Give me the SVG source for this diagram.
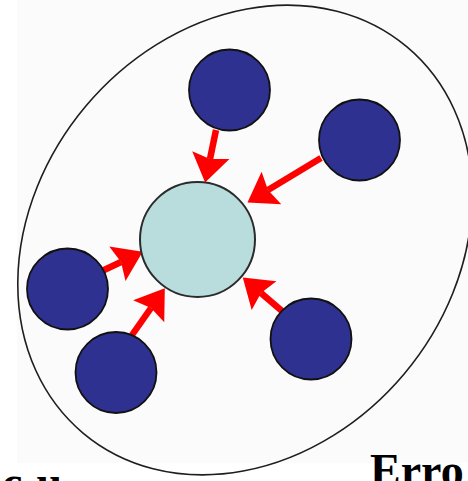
<svg xmlns="http://www.w3.org/2000/svg" width="468" height="481" viewBox="0 0 468 481">
  <style>
    .boundary { fill: none; stroke: #1e1e1e; stroke-width: 1.6; }
    .hub { fill: #b9dcdd; stroke: #2b2b2b; stroke-width: 2; }
    .member { fill: #2e3190; stroke: #111111; stroke-width: 1.8; }
    .link { stroke: #ff0000; stroke-width: 6.5; fill: none; marker-end: url(#head); }
    .label { font-family: "Liberation Serif", "Times New Roman", serif; font-weight: bold; font-size: 46px; fill: #000000; }
  </style>
  <defs>
    <marker id="head" markerUnits="userSpaceOnUse" markerWidth="30" markerHeight="40" viewBox="0 -20 28 40" refX="4" refY="0" orient="auto">
      <path d="M28,0 L0,-19 L4,0 L0,19 Z" fill="#ff0000"/>
    </marker>
  </defs>

  <rect x="0" y="0" width="468" height="481" fill="#ffffff"/>
  <rect x="17" y="0" width="451" height="463" fill="#fbfbfb"/>

  <!-- enclosing boundary -->
  <ellipse id="boundary" class="boundary" cx="245" cy="240" rx="252" ry="208" transform="rotate(-50 245 240)"/>

  <!-- connectors: each member points at the hub -->
  <g id="connectors">
    <line class="link" x1="216" y1="130" x2="210" y2="159"/>
    <line class="link" x1="321" y1="158" x2="268" y2="190"/>
    <line class="link" x1="102" y1="271" x2="121" y2="262"/>
    <line class="link" x1="132" y1="335" x2="151" y2="308"/>
    <line class="link" x1="282" y1="311" x2="261" y2="293"/>
  </g>

  <g id="hub">
    <circle class="hub" cx="197.5" cy="239.5" r="57.5"/>
  </g>
  <g id="member-top">
    <circle class="member" cx="229.5" cy="90" r="40.5"/>
  </g>
  <g id="member-upper-right">
    <circle class="member" cx="359.5" cy="140" r="40.5"/>
  </g>
  <g id="member-left">
    <circle class="member" cx="67.5" cy="289" r="40.5"/>
  </g>
  <g id="member-lower-left">
    <circle class="member" cx="116" cy="372.5" r="40.5"/>
  </g>
  <g id="member-lower-right">
    <circle class="member" cx="311" cy="339" r="40.5"/>
  </g>

  <g id="captions">
    <text class="label" x="370" y="486">Erro</text>
    <text class="label" x="2" y="498">c<tspan dx="14">u</tspan></text>
  </g>
</svg>
